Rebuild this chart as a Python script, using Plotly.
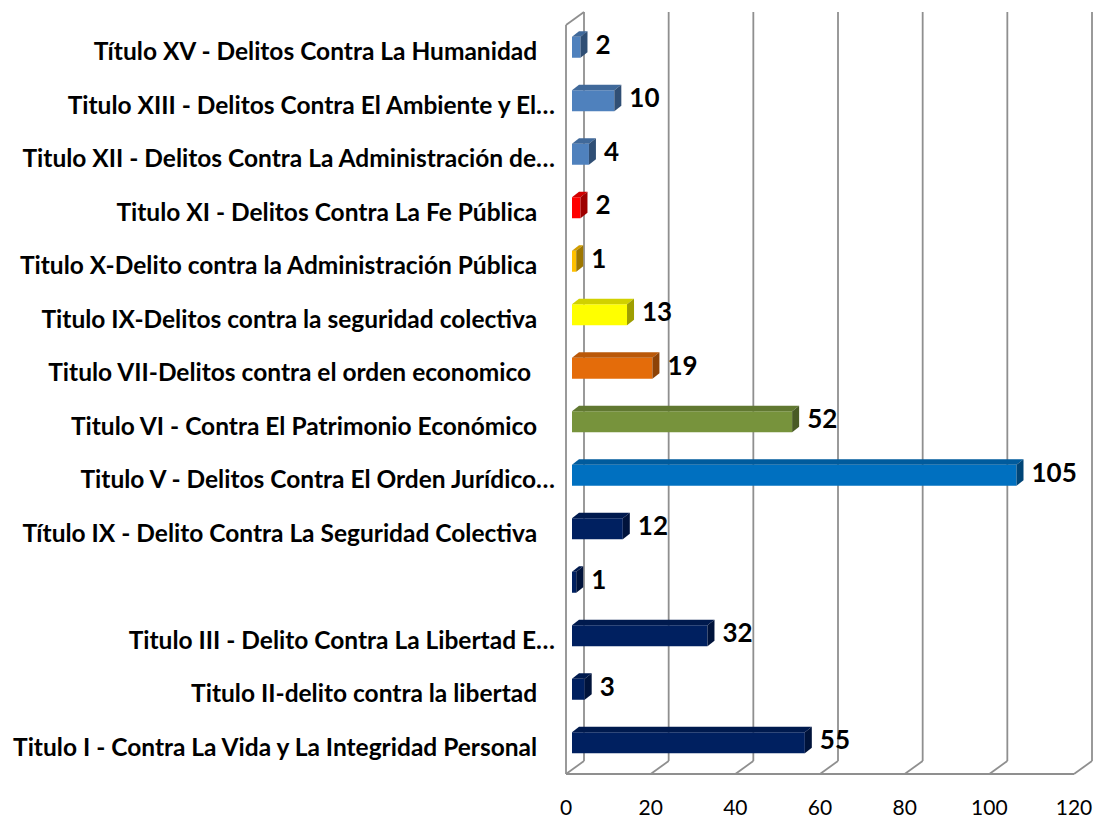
import plotly.graph_objects as go

# categories from bottom to top, as drawn on the chart
categorias = [
    "Titulo I - Contra La Vida y La Integridad Personal",
    "Titulo II-delito contra la libertad",
    "Titulo III - Delito Contra La Libertad E…",
    "",
    "Título IX - Delito Contra La Seguridad Colectiva",
    "Titulo V - Delitos Contra El Orden Jurídico…",
    "Titulo VI - Contra El Patrimonio Económico",
    "Titulo VII-Delitos contra el orden economico ",
    "Titulo IX-Delitos contra la seguridad colectiva",
    "Titulo X-Delito contra la Administración Pública",
    "Titulo XI - Delitos Contra La Fe Pública",
    "Titulo XII - Delitos Contra La Administración de…",
    "Titulo XIII - Delitos Contra El Ambiente y El…",
    "Título XV - Delitos Contra La Humanidad",
]
valores = [55, 3, 32, 1, 12, 105, 52, 19, 13, 1, 2, 4, 10, 2]
colores = ["#002060", "#002060", "#002060", "#002060", "#002060", "#0070C0",
           "#77933C", "#E46C0A", "#FFFF00", "#FFC000", "#FF0000",
           "#4F81BD", "#4F81BD", "#4F81BD"]
ticks_x = [0, 20, 40, 60, 80, 100, 120]

FONT = "Lato"
PX_X = 508 / 120      # pixels per unit on x
PX_Y = 749 / 14       # pixels per category
# wall depth, bar offset inside the wall, bar depth (in axis units)
BDX, BDY = 18 / PX_X, 13 / PX_Y
FDX, FDY = 6 / PX_X, 4.5 / PX_Y
DDX, DDY = 7 / PX_X, 5.5 / PX_Y
ANCHO = 21 / PX_Y


def oscuro(hexcol, f):
    r, g, b = (int(hexcol[i:i + 2], 16) for i in (1, 3, 5))
    return "#%02x%02x%02x" % (int(r * f), int(g * f), int(b * f))


def etiqueta(t):
    t = t.replace(" ", "\u00a0")
    if t and not t.endswith("…"):
        t += "\u00a0" * 3
    return t


shapes = []
gris = dict(color="#8f8f8f", width=1.8)
# back wall grid lines and floor diagonals
for k in ticks_x:
    shapes.append(dict(type="line", x0=k + BDX, x1=k + BDX, y0=-0.5 + BDY, y1=13.5 + BDY,
                       xref="x", yref="y", line=gris, layer="below"))
    shapes.append(dict(type="line", x0=k, x1=k + BDX, y0=-0.5, y1=-0.5 + BDY,
                       xref="x", yref="y", line=gris, layer="below"))
shapes.append(dict(type="line", x0=0, x1=120, y0=-0.5, y1=-0.5,
                   xref="x", yref="y", line=gris, layer="below"))
shapes.append(dict(type="line", x0=0, x1=0, y0=-0.5, y1=13.5,
                   xref="x", yref="y", line=gris, layer="below"))
shapes.append(dict(type="line", x0=0, x1=BDX, y0=13.5, y1=13.5 + BDY,
                   xref="x", yref="y", line=gris, layer="below"))

# top and side faces of each bar
for i, (v, c) in enumerate(zip(valores, colores)):
    yb = i + FDY - ANCHO / 2
    yt = i + FDY + ANCHO / 2
    x0, x1 = FDX, FDX + v
    top = f"M{x0},{yt} L{x1},{yt} L{x1 + DDX},{yt + DDY} L{x0 + DDX},{yt + DDY} Z"
    side = f"M{x1},{yb} L{x1},{yt} L{x1 + DDX},{yt + DDY} L{x1 + DDX},{yb + DDY} Z"
    shapes.append(dict(type="path", path=top, xref="x", yref="y",
                       fillcolor=oscuro(c, 0.82), line=dict(width=0), layer="above"))
    shapes.append(dict(type="path", path=side, xref="x", yref="y",
                       fillcolor=oscuro(c, 0.62), line=dict(width=0), layer="above"))

fig = go.Figure()
fig.add_trace(go.Bar(
    x=valores, y=[i + FDY for i in range(len(valores))], base=FDX,
    orientation="h", width=ANCHO, marker=dict(color=colores, line=dict(width=0)),
    hoverinfo="skip",
))
fig.add_trace(go.Scatter(
    x=[FDX + v + DDX + 8 / PX_X for v in valores],
    y=[i + FDY for i in range(len(valores))],
    mode="text", text=[str(v) for v in valores], textposition="middle right",
    textfont=dict(family=FONT, size=26, color="black", weight="bold"),
    hoverinfo="skip",
))

# the page adds an 8px body margin, so the figure is 8px smaller than the window
fig.update_layout(
    width=1093, height=811,
    margin=dict(l=548, r=0, t=0, b=39),
    plot_bgcolor="white", paper_bgcolor="white",
    showlegend=False, shapes=shapes,
)
fig.update_xaxes(
    range=[-10 / PX_X, 120 + 27 / PX_X], tickvals=ticks_x,
    showgrid=False, zeroline=False, showline=False,
    tickfont=dict(family=FONT, size=21, color="black"),
    ticklabelstandoff=13, ticklabeloverflow="allow",
)
fig.update_yaxes(
    range=[-0.5 - 6 / PX_Y, 13.5 + 17 / PX_Y],
    tickvals=list(range(len(categorias))),
    ticktext=[etiqueta(t) for t in categorias],
    showgrid=False, zeroline=False, showline=False,
    tickfont=dict(family=FONT, size=24.5, color="black", weight="bold"),
    ticklabelstandoff=0,
)
fig.write_html("out.html")
